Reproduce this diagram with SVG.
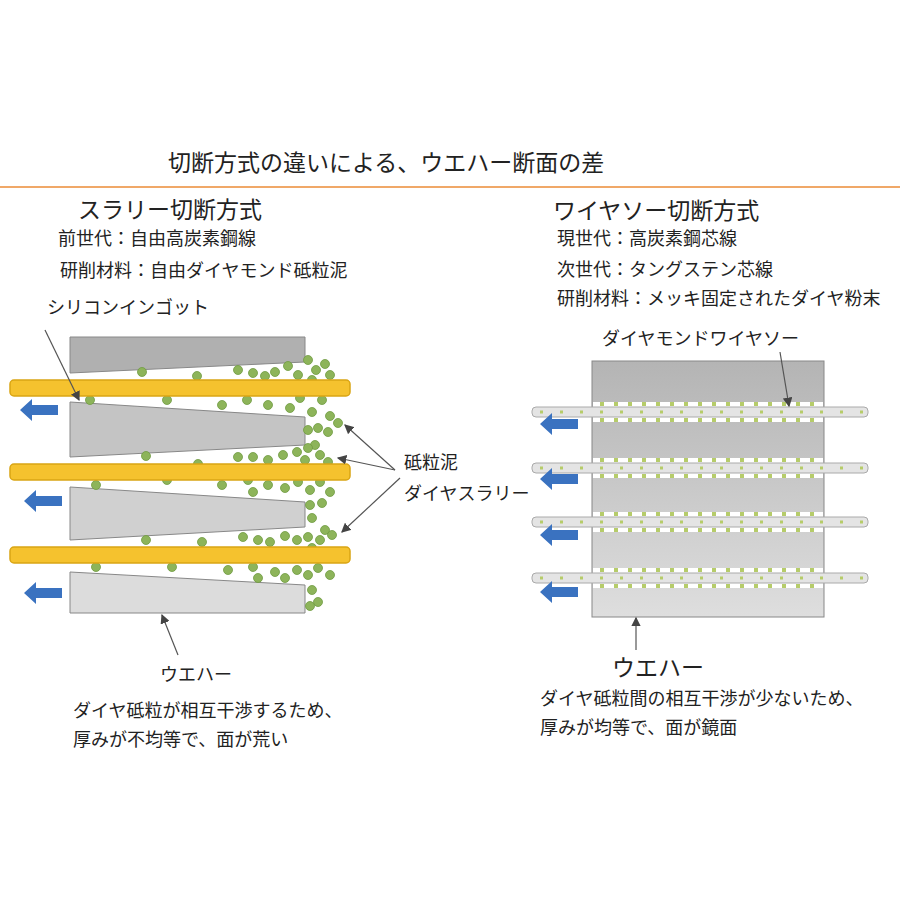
<svg xmlns="http://www.w3.org/2000/svg" width="900" height="900" viewBox="0 0 900 900">
<style>
text{font-family:"Noto Sans CJK JP","Noto Sans",sans-serif;fill:#222}
.t1{font-size:23px}.t2{font-size:18px}.h{font-size:23px}
.wy{fill:#f5c22e;stroke:#d9a514;stroke-width:1.5}
.wg{fill:#e4e4e4;stroke:#aaa;stroke-width:1}
.ar{fill:#3a72c0}
.d{fill:#8db45a;stroke:#6f9a40;stroke-width:.8}
.ln{stroke:#555;stroke-width:1.2;fill:none}
</style>
<defs>
<marker id="m" markerWidth="8" markerHeight="8" refX="7" refY="4" orient="auto"><path d="M0,0 L8,4 L0,8 z" fill="#444"/></marker>
<path id="ba" d="M0,0 L12,-11 L12,-5 L38,-5 L38,5 L12,5 L12,11 z"/>
<circle id="c" r="4.5"/>
<linearGradient id="gr" x1="0" y1="0" x2="0" y2="1"><stop offset="0" stop-color="#b4b4b4"/><stop offset="1" stop-color="#dedede"/></linearGradient>
</defs>
<rect width="900" height="900" fill="#fff"/>
<text x="168" y="171" class="t1">切断方式の違いによる、ウエハー断面の差</text>
<line x1="0" y1="187" x2="900" y2="187" stroke="#f0a868" stroke-width="2"/>

<g id="left">
<text x="78" y="218" class="h">スラリー切断方式</text>
<text x="58" y="245" class="t2">前世代：自由高炭素鋼線</text>
<text x="60" y="277" class="t2">研削材料：自由ダイヤモンド砥粒泥</text>
<text x="47" y="314" class="t2">シリコンインゴット</text>
<g id="ingot" stroke="#888" stroke-width="1">
<path d="M70,337 H305 V362 L70,373 Z" fill="#b0b0b0"/>
<path d="M70,402 L305,417 V445 L70,457 Z" fill="#c4c4c4"/>
<path d="M70,487 L305,502 V527 L70,540 Z" fill="#d0d0d0"/>
<path d="M70,572 L305,585 V613 H70 Z" fill="#dcdcdc"/>
</g>
<g id="slurry" class="d">
<use href="#c" x="142" y="372"/><use href="#c" x="197" y="376"/><use href="#c" x="238" y="370"/><use href="#c" x="253" y="373"/><use href="#c" x="265" y="376"/><use href="#c" x="275" y="372"/><use href="#c" x="288" y="366"/><use href="#c" x="298" y="375"/><use href="#c" x="308" y="360"/><use href="#c" x="316" y="370"/><use href="#c" x="325" y="364"/><use href="#c" x="330" y="375"/><use href="#c" x="312" y="380"/>
<use href="#c" x="90" y="400"/><use href="#c" x="167" y="400"/><use href="#c" x="247" y="400"/><use href="#c" x="222" y="405"/><use href="#c" x="268" y="405"/><use href="#c" x="290" y="408"/><use href="#c" x="300" y="398"/><use href="#c" x="312" y="412"/><use href="#c" x="322" y="400"/><use href="#c" x="330" y="416"/><use href="#c" x="318" y="428"/><use href="#c" x="328" y="432"/><use href="#c" x="338" y="423"/><use href="#c" x="308" y="430"/><use href="#c" x="315" y="445"/>
<use href="#c" x="146" y="456"/><use href="#c" x="198" y="464"/><use href="#c" x="238" y="457"/><use href="#c" x="253" y="457"/><use href="#c" x="268" y="460"/><use href="#c" x="283" y="455"/><use href="#c" x="297" y="452"/><use href="#c" x="308" y="448"/><use href="#c" x="320" y="455"/><use href="#c" x="328" y="462"/><use href="#c" x="305" y="460"/>
<use href="#c" x="96" y="485"/><use href="#c" x="167" y="480"/><use href="#c" x="222" y="485"/><use href="#c" x="248" y="480"/><use href="#c" x="253" y="492"/><use href="#c" x="268" y="485"/><use href="#c" x="285" y="488"/><use href="#c" x="298" y="482"/><use href="#c" x="310" y="490"/><use href="#c" x="320" y="482"/><use href="#c" x="330" y="492"/><use href="#c" x="310" y="505"/><use href="#c" x="322" y="503"/><use href="#c" x="312" y="518"/><use href="#c" x="325" y="530"/>
<use href="#c" x="146" y="540"/><use href="#c" x="202" y="542"/><use href="#c" x="243" y="537"/><use href="#c" x="258" y="540"/><use href="#c" x="270" y="542"/><use href="#c" x="285" y="536"/><use href="#c" x="297" y="540"/><use href="#c" x="308" y="537"/><use href="#c" x="320" y="540"/><use href="#c" x="332" y="535"/><use href="#c" x="312" y="548"/>
<use href="#c" x="96" y="567"/><use href="#c" x="172" y="567"/><use href="#c" x="228" y="570"/><use href="#c" x="253" y="567"/><use href="#c" x="258" y="578"/><use href="#c" x="275" y="572"/><use href="#c" x="285" y="578"/><use href="#c" x="297" y="570"/><use href="#c" x="308" y="575"/><use href="#c" x="318" y="568"/><use href="#c" x="330" y="575"/><use href="#c" x="312" y="590"/><use href="#c" x="318" y="602"/><use href="#c" x="310" y="606"/>
</g>
<g id="wires-l">
<rect x="10" y="380" width="340" height="16" rx="4" class="wy"/>
<rect x="10" y="464" width="340" height="16" rx="4" class="wy"/>
<rect x="10" y="547" width="340" height="16" rx="4" class="wy"/>
</g>
<g id="arrows-l" class="ar">
<use href="#ba" x="20" y="410"/><use href="#ba" x="24" y="501"/><use href="#ba" x="24" y="593"/>
</g>
<text x="404" y="469" class="t2">砥粒泥</text>
<text x="404" y="500" class="t2">ダイヤスラリー</text>
<text x="160" y="681" class="t2">ウエハー</text>
<text x="73" y="717" class="t2">ダイヤ砥粒が相互干渉するため、</text>
<text x="73" y="746" class="t2">厚みが不均等で、面が荒い</text>
</g>

<g id="right">
<text x="553" y="219" class="h">ワイヤソー切断方式</text>
<text x="557" y="245" class="t2">現世代：高炭素鋼芯線</text>
<text x="557" y="276" class="t2">次世代：タングステン芯線</text>
<text x="557" y="305" class="t2">研削材料：メッキ固定されたダイヤ粉末</text>
<text x="602" y="345" class="t2">ダイヤモンドワイヤソー</text>
<rect x="592" y="361" width="232" height="256" fill="url(#gr)" stroke="#888"/>
<g id="gaps" fill="#fff">
<rect x="593" y="402" width="230" height="20"/>
<rect x="593" y="458" width="230" height="20"/>
<rect x="593" y="512" width="230" height="20"/>
<rect x="593" y="568" width="230" height="20"/>
</g>
<g id="wires-r">
<rect x="532" y="407" width="336" height="10" rx="4" class="wg"/>
<rect x="532" y="463" width="336" height="10" rx="4" class="wg"/>
<rect x="532" y="517" width="336" height="10" rx="4" class="wg"/>
<rect x="532" y="573" width="336" height="10" rx="4" class="wg"/>
<g stroke="#b6cc6a" stroke-width="3" stroke-dasharray="3 17">
<line x1="540" y1="412" x2="868" y2="412"/><line x1="540" y1="468" x2="868" y2="468"/><line x1="540" y1="522" x2="868" y2="522"/><line x1="540" y1="578" x2="868" y2="578"/>
</g>
<g stroke="#b6cc6a" stroke-width="4" stroke-dasharray="4 10">
<line x1="600" y1="404" x2="820" y2="404"/><line x1="600" y1="420" x2="820" y2="420"/>
<line x1="600" y1="460" x2="820" y2="460"/><line x1="600" y1="476" x2="820" y2="476"/>
<line x1="600" y1="514" x2="820" y2="514"/><line x1="600" y1="530" x2="820" y2="530"/>
<line x1="600" y1="570" x2="820" y2="570"/><line x1="600" y1="586" x2="820" y2="586"/>
</g>
</g>
<g id="arrows-r" class="ar">
<use href="#ba" x="540" y="424"/><use href="#ba" x="540" y="479"/><use href="#ba" x="540" y="535"/><use href="#ba" x="540" y="592"/>
</g>
<text x="612" y="676" class="h">ウエハー</text>
<text x="540" y="705" class="t2">ダイヤ砥粒間の相互干渉が少ないため、</text>
<text x="540" y="734" class="t2">厚みが均等で、面が鏡面</text>
</g>

<g id="connectors" class="ln" marker-end="url(#m)">
<line x1="45" y1="330" x2="79" y2="400"/>
<line x1="395" y1="470" x2="345" y2="425"/>
<line x1="395" y1="470" x2="338" y2="458"/>
<line x1="400" y1="478" x2="342" y2="532"/>
<line x1="178" y1="655" x2="162" y2="615"/>
<line x1="780" y1="352" x2="789" y2="406"/>
<line x1="636" y1="650" x2="636" y2="618"/>
</g>
</svg>
